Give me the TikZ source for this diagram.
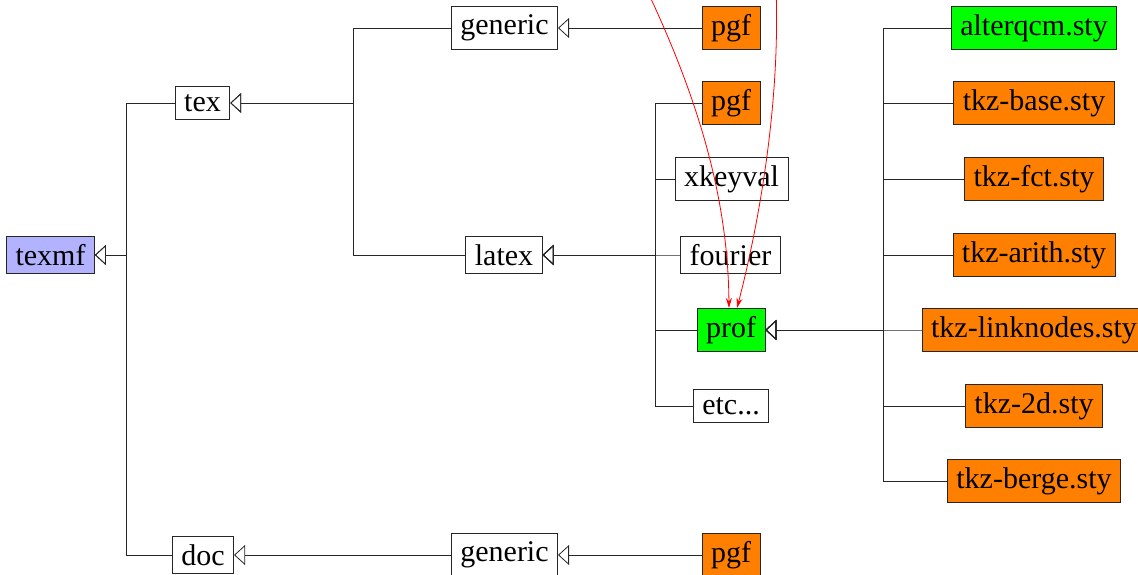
\documentclass[tikz,border=0pt]{standalone}
\usepackage{fontspec}
\setmainfont{Liberation Serif}
\usetikzlibrary{arrows.meta}
\tikzset{
  box/.style={draw=black!85, line width=0.8bp, inner xsep=9bp, inner ysep=8bp, font=\fontsize{30bp}{36bp}\selectfont},
  wbox/.style={box, fill=white},
  obox/.style={box, fill=orange},
  gbox/.style={box, fill=green},
  bbox/.style={box, fill=blue!30},
  inh/.style={draw=black!85, line width=0.8bp, -{Triangle[open, length=11bp, width=20bp, line width=0.8bp]}},
  redarr/.style={draw=red, line width=0.8bp, -{Stealth[length=10bp, width=6bp]}}
}
\begin{document}
\begin{tikzpicture}[x=1bp,y=-1bp]
\useasboundingbox (0,0) rectangle (1138,575);
% nodes
\node[bbox] (texmf) at (50.5,255) {texmf};
\node[wbox] (tex) at (202.5,103) {tex};
\node[wbox] (doc) at (203,555) {doc};
\node[wbox] (gen1) at (504.5,28) {generic};
\node[wbox] (latex) at (504,255) {latex};
\node[wbox] (gen2) at (504.5,555) {generic};
\node[obox] (pgf1) at (731,28) {pgf};
\node[obox] (pgf2) at (731,103) {pgf};
\node[wbox] (xkeyval) at (731.5,179) {xkeyval};
\node[wbox] (fourier) at (730.5,255) {fourier};
\node[gbox] (prof) at (731,330) {prof};
\node[wbox] (etc) at (731,406) {etc...};
\node[obox] (pgf3) at (731,555) {pgf};
\node[gbox] (alter) at (1034,28) {alterqcm.sty};
\node[obox] (base) at (1034,103) {tkz-base.sty};
\node[obox] (fct) at (1034,179) {tkz-fct.sty};
\node[obox] (arith) at (1034,255) {tkz-arith.sty};
\node[obox] (link) at (1034,330) {tkz-linknodes.sty};
\node[obox] (twod) at (1034,406) {tkz-2d.sty};
\node[obox] (berge) at (1034,481) {tkz-berge.sty};
% junctions
\coordinate (j1) at (126,255);
\coordinate (j2) at (353,103);
\coordinate (j3) at (655,255);
\coordinate (j4) at (883,330);
% connectors
\draw[inh] (tex.west) -| (j1) -- (texmf.east);
\draw[inh] (doc.west) -| (j1) -- (texmf.east);
\draw[inh] (gen1.west) -| (j2) -- (tex.east);
\draw[inh] (latex.west) -| (j2) -- (tex.east);
\draw[inh] (pgf1.west) -- (gen1.east);
\draw[inh] (gen2.west) -- (doc.east);
\draw[inh] (pgf3.west) -- (gen2.east);
\foreach \n in {pgf2,xkeyval,fourier,prof,etc}
  \draw[inh] (\n.west) -| (j3) -- (latex.east);
\foreach \n in {alter,base,fct,arith,link,twod,berge}
  \draw[inh] (\n.west) -| (j4) -- (prof.east);
% red arrows
\coordinate (r1) at (622,-60);
\coordinate (r2) at (770,-80);
\coordinate (p1) at (729,308);
\coordinate (p2) at (737,308);
\draw[redarr] (r1) .. controls (700,90) and (728,200) .. (p1);
\draw[redarr] (r2) .. controls (790,60) and (760,220) .. (p2);
\end{tikzpicture}
\end{document}
